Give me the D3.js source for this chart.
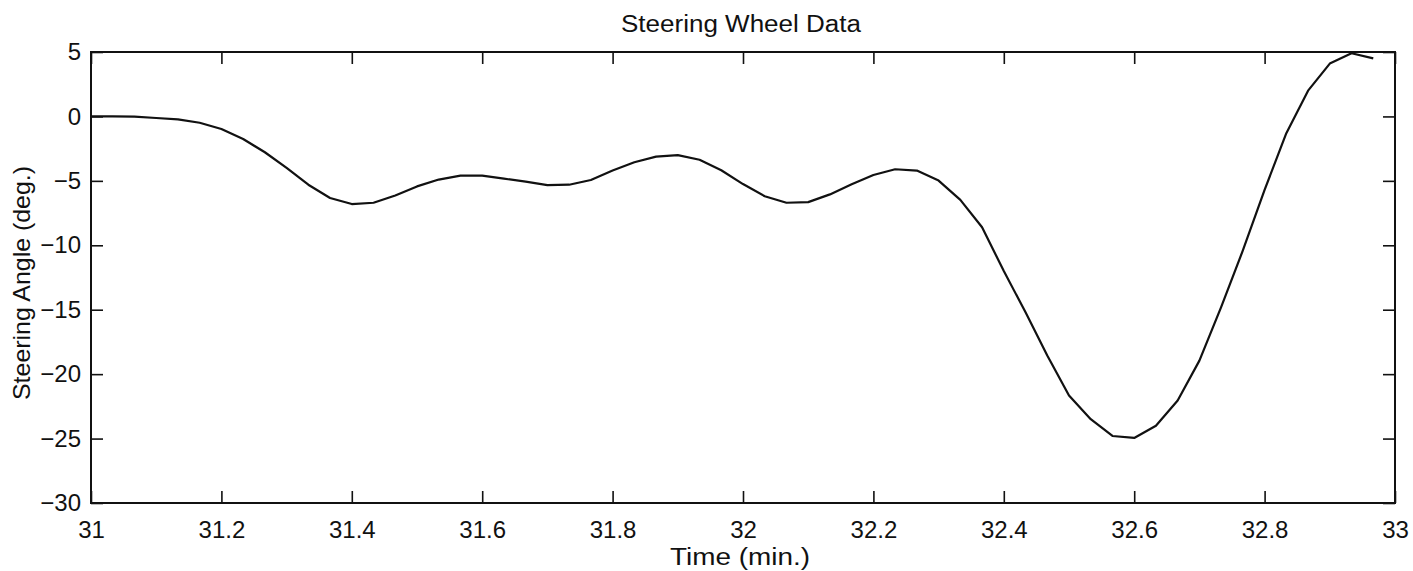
<!DOCTYPE html>
<html>
<head>
<meta charset="utf-8">
<script src="https://cdn.jsdelivr.net/npm/d3@7"></script>
<style>
  html, body { margin: 0; padding: 0; background: #fff; }
  svg { display: block; font-family: "Liberation Sans", Arial, Helvetica, sans-serif; }
</style>
</head>
<body>
<svg id="chart" width="1413" height="571"></svg>
<script>
// Sample index i -> time = 31 + i/30 min (2-second samples)
const sampleIndex = d3.range(60);
const steeringAngle = [
  0, 0, -0.02, -0.12, -0.23, -0.49, -0.98, -1.75, -2.78, -4.0,
  -5.3, -6.33, -6.8, -6.7, -6.13, -5.43, -4.9, -4.6, -4.6, -4.83,
  -5.06, -5.33, -5.3, -4.93, -4.2, -3.56, -3.12, -3.0, -3.36, -4.18,
  -5.25, -6.19, -6.7, -6.65, -6.05, -5.27, -4.55, -4.1, -4.2, -4.98,
  -6.48, -8.6, -12.0, -15.2, -18.55, -21.65, -23.5, -24.8, -24.95, -24.0,
  -22.05, -18.95, -14.8, -10.4, -5.7, -1.3, 2.0, 4.1, 4.9, 4.5
];
const timeValues = sampleIndex.map(i => 31 + i / 30);
const xTicks = [31, 31.2, 31.4, 31.6, 31.8, 32, 32.2, 32.4, 32.6, 32.8, 33];
const xTickLabels = ["31", "31.2", "31.4", "31.6", "31.8", "32", "32.2", "32.4", "32.6", "32.8", "33"];
const yTicks = [-30, -25, -20, -15, -10, -5, 0, 5];
const yTickLabels = ["\u221230", "\u221225", "\u221220", "\u221215", "\u221210", "\u22125", "0", "5"];
const titleText = "Steering Wheel Data";
const xTitle = "Time (min.)";
const yTitle = "Steering Angle (deg.)";

const L = 91, R = 1395, T = 52, B = 503;
const svg = d3.select("#chart");
const x = d3.scaleLinear().domain([31, 33]).range([L, R]);
const y = d3.scaleLinear().domain([-30, 5]).range([B, T]);
const tickLen = 12;
const ink = "#111";

function styleAxis(g) {
  g.select(".domain").remove();
  g.selectAll(".tick line").attr("stroke", ink).attr("stroke-width", 1.6);
}

svg.append("g").attr("transform", `translate(0,${B})`)
  .call(d3.axisBottom(x).tickValues(xTicks).tickSizeInner(-tickLen).tickSizeOuter(0)
    .tickFormat((d, i) => xTickLabels[i]).tickPadding(18))
  .call(styleAxis)
  .call(g => g.selectAll(".tick text").attr("font-size", 24).attr("fill", ink)
    .attr("font-family", "'Liberation Sans', Arial, sans-serif"));
svg.append("g").attr("transform", `translate(0,${T})`)
  .call(d3.axisTop(x).tickValues(xTicks).tickSizeInner(-tickLen).tickSizeOuter(0).tickFormat(""))
  .call(styleAxis);
svg.append("g").attr("transform", `translate(${L},0)`)
  .call(d3.axisLeft(y).tickValues(yTicks).tickSizeInner(-tickLen).tickSizeOuter(0)
    .tickFormat((d, i) => yTickLabels[i]).tickPadding(10))
  .call(styleAxis)
  .call(g => g.selectAll(".tick text").attr("font-size", 24).attr("fill", ink)
    .attr("font-family", "'Liberation Sans', Arial, sans-serif"));
svg.append("g").attr("transform", `translate(${R},0)`)
  .call(d3.axisRight(y).tickValues(yTicks).tickSizeInner(-tickLen).tickSizeOuter(0).tickFormat(""))
  .call(styleAxis);

svg.append("rect").attr("x", L).attr("y", T).attr("width", R - L).attr("height", B - T)
  .attr("fill", "none").attr("stroke", ink).attr("stroke-width", 2);

const line = d3.line().x((d, i) => x(timeValues[i])).y(d => y(d));
svg.append("path").datum(steeringAngle).attr("d", line)
  .attr("fill", "none").attr("stroke", ink).attr("stroke-width", 2.2).attr("stroke-linejoin", "round");

svg.append("text").attr("x", 741).attr("y", 32).attr("text-anchor", "middle")
  .attr("font-size", 23).attr("fill", ink)
  .attr("textLength", 240).attr("lengthAdjust", "spacingAndGlyphs").text(titleText);
svg.append("text").attr("x", 740).attr("y", 565).attr("text-anchor", "middle")
  .attr("font-size", 23).attr("fill", ink)
  .attr("textLength", 140).attr("lengthAdjust", "spacingAndGlyphs").text(xTitle);
svg.append("text").attr("transform", `translate(30,283) rotate(-90)`).attr("text-anchor", "middle")
  .attr("font-size", 24).attr("fill", ink)
  .attr("textLength", 234).attr("lengthAdjust", "spacingAndGlyphs").text(yTitle);
</script>
</body>
</html>
